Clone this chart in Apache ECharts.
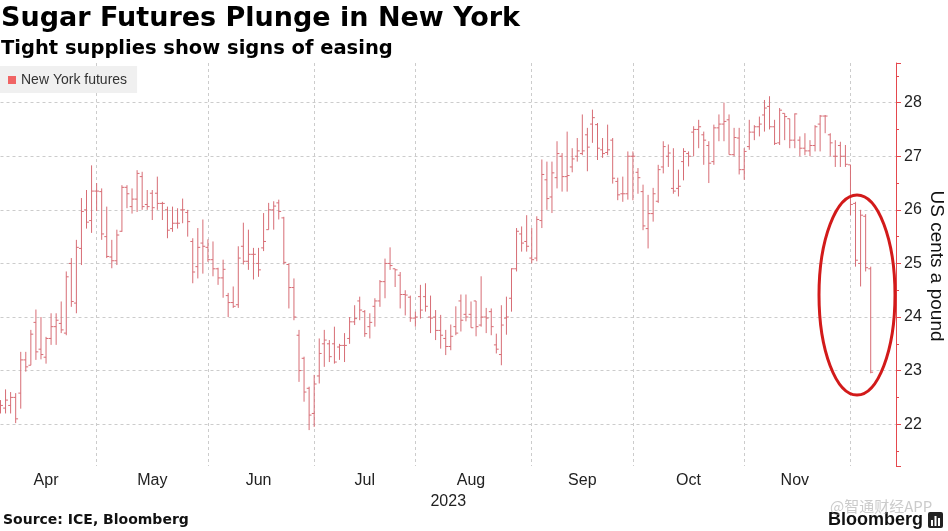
<!DOCTYPE html>
<html><head><meta charset="utf-8">
<script src="https://cdn.jsdelivr.net/npm/echarts@6/dist/echarts.min.js"></script>
<style>html,body{margin:0;padding:0;background:#fff;}#c{width:948px;height:531px;}</style>
</head><body><div id="c"></div>
<script>
// ---- data (US cents a pound), one entry per trading day from 2023-04-03 ----
const openV = [22.3,22.3,22.35,22.5,22.58,23.2,23.1,23.9,23.4,23.25,
23.6,23.82,23.88,23.7,25.0,24.26,25.28,26.0,25.8,26.35,
26.34,25.5,25.12,25.05,25.6,26.42,26.06,26.2,26.62,26.1,
26.31,26.31,26.12,26.0,25.65,25.75,26.0,25.95,25.41,24.94,
25.38,25.3,25.07,24.9,24.73,24.4,24.27,24.23,25.32,25.04,
25.17,25.0,25.29,25.63,26.0,26.13,25.85,24.98,24.55,23.66,
23.23,22.67,22.2,22.9,23.5,23.5,23.5,23.44,23.47,23.6,
23.91,24.3,24.1,23.82,24.2,24.3,24.66,25.0,24.9,24.78,
24.42,24.37,23.98,24.38,24.38,24.0,24.0,23.75,23.6,23.45,
23.82,24.3,24.05,24.05,24.3,23.85,24.0,24.1,23.48,23.3,
23.98,24.35,24.9,25.55,25.41,25.1,25.1,25.8,26.56,26.24,
26.6,27.0,26.62,26.8,27.0,27.05,27.4,27.6,27.59,27.12,
27.07,27.3,26.53,26.3,26.3,27.0,26.7,26.34,25.65,25.93,
26.16,26.8,27.0,26.4,26.4,26.9,27.05,27.45,27.5,27.4,
27.2,26.9,27.53,27.6,27.68,27.03,27.34,26.75,27.18,27.45,
27.55,27.77,27.93,27.55,27.25,27.8,27.7,27.3,27.3,27.15,
27.1,27.2,27.6,27.75,27.4,27.0,27.2,27.0,26.84,26.12,
25.0,25.88,24.9];
const closeV = [22.35,22.45,22.5,22.1,23.2,23.07,23.68,23.35,23.3,23.6,
23.82,23.94,23.76,24.75,24.29,25.3,25.97,25.77,26.35,26.35,
25.55,25.13,25.05,25.53,26.42,26.3,26.2,26.68,26.06,26.06,
26.04,26.12,26.12,25.62,25.75,25.75,26.0,25.78,24.84,25.3,
25.32,25.07,24.9,24.73,24.89,24.27,24.2,25.1,25.04,25.17,
25.17,24.88,25.41,26.0,26.07,25.97,25.02,24.55,24.0,23.0,
22.6,22.17,22.75,23.32,23.57,23.26,23.16,23.47,23.47,23.91,
23.97,24.13,23.69,23.9,24.3,24.66,25.0,24.96,24.88,24.42,
24.41,23.98,24.0,24.13,24.2,23.98,23.75,23.66,23.45,23.64,
23.7,23.94,24.0,23.8,23.82,24.0,23.98,23.82,23.4,23.85,
24.0,24.9,25.6,25.38,25.32,25.07,25.82,26.66,26.21,26.69,
27.05,26.62,26.64,26.95,27.1,27.1,27.17,27.72,27.15,27.05,
27.12,26.59,26.28,26.3,27.0,27.0,26.6,25.7,25.93,26.3,
26.75,27.18,27.06,26.35,26.44,27.09,27.0,27.5,27.55,27.3,
26.87,27.53,27.6,27.65,27.03,27.35,26.75,27.09,27.45,27.55,
27.6,27.9,27.55,27.24,27.86,27.74,27.3,27.79,27.15,27.1,
27.2,27.55,27.75,27.75,27.25,27.0,27.0,26.85,26.1,25.06,
25.9,24.92,22.97];
const lowV = [22.2,22.2,22.2,22.02,22.29,22.98,23.1,23.2,23.21,23.13,
23.48,23.48,23.7,23.66,24.19,24.07,24.97,25.65,25.57,25.98,
25.44,25.1,24.91,24.97,25.59,26.03,25.93,25.96,26.0,26.0,
25.81,26.0,25.81,25.47,25.59,25.65,25.75,25.5,24.63,24.72,
24.81,25.03,24.76,24.6,24.36,24.0,24.17,24.17,24.98,24.88,
24.7,24.75,25.23,25.63,25.63,25.82,24.98,24.16,23.94,22.79,
22.42,21.89,21.95,22.76,23.07,23.16,23.13,23.2,23.16,23.5,
23.85,23.94,23.63,23.6,23.82,24.19,24.35,24.88,24.56,24.16,
24.03,23.91,23.82,23.97,24.1,23.7,23.57,23.41,23.29,23.38,
23.66,23.73,23.92,23.8,23.64,23.82,23.7,23.66,23.32,23.1,
23.67,24.1,24.85,25.22,25.22,25.0,25.04,25.66,26.0,25.94,
26.4,26.34,26.34,26.7,26.9,27.02,26.72,27.25,26.93,26.97,
27.02,26.49,26.18,26.15,26.19,26.18,26.3,25.62,25.28,25.78,
26.13,26.68,26.8,26.3,26.25,26.55,26.81,27.0,27.15,26.84,
26.5,26.84,27.28,27.28,27.03,27.0,26.66,26.56,27.12,27.3,
27.37,27.46,27.5,27.21,27.21,27.3,27.15,27.15,27.0,27.02,
27.0,27.09,27.09,27.43,27.0,26.8,26.8,26.8,25.9,24.94,
24.57,24.85,22.95];
const highV = [22.45,22.65,22.6,22.58,23.35,23.35,23.76,24.14,24.0,23.63,
24.07,24.07,24.29,24.85,25.1,25.44,26.22,26.37,26.83,26.5,
26.4,26.06,25.44,25.63,26.46,26.46,26.4,26.74,26.71,26.37,
26.37,26.62,26.15,26.06,26.06,26.03,26.21,26.0,25.47,25.66,
25.82,25.45,25.41,24.92,25.07,24.45,24.57,25.32,25.76,25.63,
25.29,25.29,25.94,26.13,26.16,26.19,25.87,25.0,24.72,23.76,
23.26,22.7,22.92,23.6,23.76,23.57,23.82,23.5,23.7,24.0,
24.22,24.38,24.13,24.07,24.35,24.69,25.09,25.3,24.9,24.84,
24.5,24.4,24.1,24.6,24.63,24.4,24.13,24.04,23.76,23.86,
24.2,24.42,24.42,24.29,24.3,24.76,24.17,24.16,23.69,24.22,
24.38,24.91,25.66,25.69,25.9,25.66,25.88,26.94,26.9,26.9,
27.28,27.06,27.46,27.15,27.34,27.78,27.53,27.87,27.62,27.34,
27.59,27.34,26.6,26.62,27.09,27.09,26.78,26.47,26.28,26.41,
26.84,27.28,27.22,27.15,26.75,27.15,27.09,27.56,27.68,27.46,
27.28,27.59,27.78,28.0,27.78,27.53,27.53,27.15,27.68,27.58,
27.74,28.05,28.12,27.68,27.9,27.8,27.7,27.8,27.37,27.43,
27.3,27.58,27.77,27.77,27.43,27.3,27.27,27.21,26.84,26.15,
26.0,25.92,24.94];

const firstDay = '2023-04-03';
const holidays = ['2023-04-07','2023-05-29','2023-06-19','2023-07-04','2023-09-04','2023-11-23'];
const axisSlots = 178; // trading-day slots on the axis (data + empty space on the right)
const monthLabels = ['Apr','May','Jun','Jul','Aug','Sep','Oct','Nov'];
const monthNames = ['Jan','Feb','Mar','Apr','May','Jun','Jul','Aug','Sep','Oct','Nov','Dec'];
const yearLabel = '2023';
const seriesName = 'New York futures';
const yAxisTitle = 'US cents a pound';

// ---- trading-day categories ----
function tradingDays(start, count, skip) {
  const out = []; const d = new Date(start + 'T00:00:00Z');
  while (out.length < count) {
    const wd = d.getUTCDay(); const s = d.toISOString().slice(0, 10);
    if (wd !== 0 && wd !== 6 && skip.indexOf(s) < 0) out.push(s);
    d.setUTCDate(d.getUTCDate() + 1);
  }
  return out;
}
const categories = tradingDays(firstDay, axisSlots, holidays);
const monthStart = new Set();
const monthRange = {};
categories.forEach((c, i) => {
  const m = monthNames[+c.slice(5, 7) - 1];
  if (!(m in monthRange)) { monthRange[m] = [i, i]; if (i > 0) monthStart.add(i); }
  else monthRange[m][1] = i;
});
const labelAt = {};
monthLabels.forEach(m => { const r = monthRange[m]; labelAt[Math.round((r[0] + r[1]) / 2)] = m; });

const ohlc = openV.map((o, i) => [i, o, closeV[i], lowV[i], highV[i]]);

const FONT = 'Liberation Sans, Arial, sans-serif';
const HFONT = '"DejaVu Sans", sans-serif';
const barColor = '#d76d75';
const axisRed = '#e5474d';

const chart = echarts.init(document.getElementById('c'), null, {renderer: 'canvas'});
chart.setOption({
  animation: false,
  backgroundColor: '#fff',
  textStyle: {fontFamily: FONT},
  title: {
    text: 'Sugar Futures Plunge in New York',
    subtext: 'Tight supplies show signs of easing',
    left: 1, top: 5, padding: 0, itemGap: 7,
    textStyle: {fontSize: 27, fontWeight: 'bold', color: '#000', fontFamily: HFONT},
    subtextStyle: {fontSize: 19.5, fontWeight: 'bold', color: '#000', fontFamily: HFONT}
  },
  legend: {
    data: [seriesName], left: 0, top: 66, orient: 'horizontal',
    backgroundColor: '#f0f0f0', padding: [7, 10, 6, 8], borderRadius: 0,
    icon: 'rect', itemWidth: 8, itemHeight: 8,
    textStyle: {fontSize: 14, color: '#333', fontFamily: FONT}
  },
  grid: {left: 0.5, right: 52, top: 63, bottom: 65, containLabel: false, outerBoundsMode: 'none'},
  xAxis: {
    type: 'category', data: categories, boundaryGap: false,
    axisLine: {show: false}, axisTick: {show: false},
    axisLabel: {
      interval: (i) => labelAt[i] !== undefined,
      formatter: (v, i) => labelAt[i] || '',
      fontSize: 16, color: '#222', margin: 7, fontFamily: FONT
    },
    splitLine: {show: true, interval: (i) => monthStart.has(i),
      lineStyle: {color: '#cccccc', type: [3, 3], width: 1}},
    name: yearLabel, nameLocation: 'middle', nameGap: 25,
    nameTextStyle: {fontSize: 16, color: '#222', fontFamily: FONT}
  },
  yAxis: {
    type: 'value', position: 'right', min: 21.22, max: 28.74,
    minInterval: 1, maxInterval: 1, splitNumber: 7, scale: true,
    axisLine: {show: true, lineStyle: {color: axisRed, width: 1}},
    axisTick: {show: true, length: 5, lineStyle: {color: axisRed}},
    minorTick: {show: true, splitNumber: 2, length: 3, lineStyle: {color: axisRed}},
    axisLabel: {margin: 8, fontSize: 16, color: '#222', showMinLabel: false, showMaxLabel: false, fontFamily: FONT},
    splitLine: {show: true, showMinLine: false, showMaxLine: false, lineStyle: {color: '#cccccc', type: [3, 3], width: 1}}
  },
  series: [{
    name: seriesName, type: 'custom', clip: true,
    itemStyle: {color: '#f06464'},
    encode: {x: 0, y: [1, 2, 3, 4]},
    data: ohlc,
    renderItem: function (params, api) {
      const i = api.value(0);
      const o = api.coord([i, api.value(1)]);
      const c = api.coord([i, api.value(2)]);
      const l = api.coord([i, api.value(3)]);
      const h = api.coord([i, api.value(4)]);
      const x = o[0], w = 2.4;
      const st = {stroke: barColor, lineWidth: 1, fill: null};
      return {type: 'group', children: [
        {type: 'line', shape: {x1: x, y1: h[1], x2: x, y2: l[1]}, style: st},
        {type: 'line', shape: {x1: x - w, y1: o[1], x2: x, y2: o[1]}, style: st},
        {type: 'line', shape: {x1: x, y1: c[1], x2: x + w, y2: c[1]}, style: st}
      ]};
    }
  }],
  graphic: [
    {type: 'text', x: 936, y: 266, rotation: -Math.PI / 2,
     style: {text: yAxisTitle, fill: '#111', font: '19px ' + FONT, align: 'center', verticalAlign: 'middle'}},
    {type: 'ellipse', shape: {cx: 857, cy: 295, rx: 38, ry: 100},
     style: {stroke: '#d21a1a', lineWidth: 3, fill: null}, z: 100},
    {type: 'text', left: 3, top: 513,
     style: {text: 'Source: ICE, Bloomberg', fill: '#111', font: 'bold 14px ' + HFONT}},
    {type: 'text', left: 828, top: 511,
     style: {text: 'Bloomberg', fill: '#111', font: 'bold 18px ' + FONT}},
    {type: 'group', left: 928, top: 512, children: [
      {type: 'rect', shape: {x: 0, y: 0, width: 15, height: 16, r: 2}, style: {fill: '#222'}},
      {type: 'rect', shape: {x: 3, y: 8, width: 2, height: 6}, style: {fill: '#fff'}},
      {type: 'rect', shape: {x: 6.5, y: 4, width: 2, height: 10}, style: {fill: '#fff'}},
      {type: 'rect', shape: {x: 10, y: 6, width: 2, height: 8}, style: {fill: '#fff'}}
    ]},
    {type: 'text', left: 830, top: 499, z: 120,
     style: {text: '@智通财经APP', fill: 'rgba(160,160,160,0.55)', font: '15px "Noto Sans CJK SC", sans-serif'}}
  ]
});
</script>
</body></html>
